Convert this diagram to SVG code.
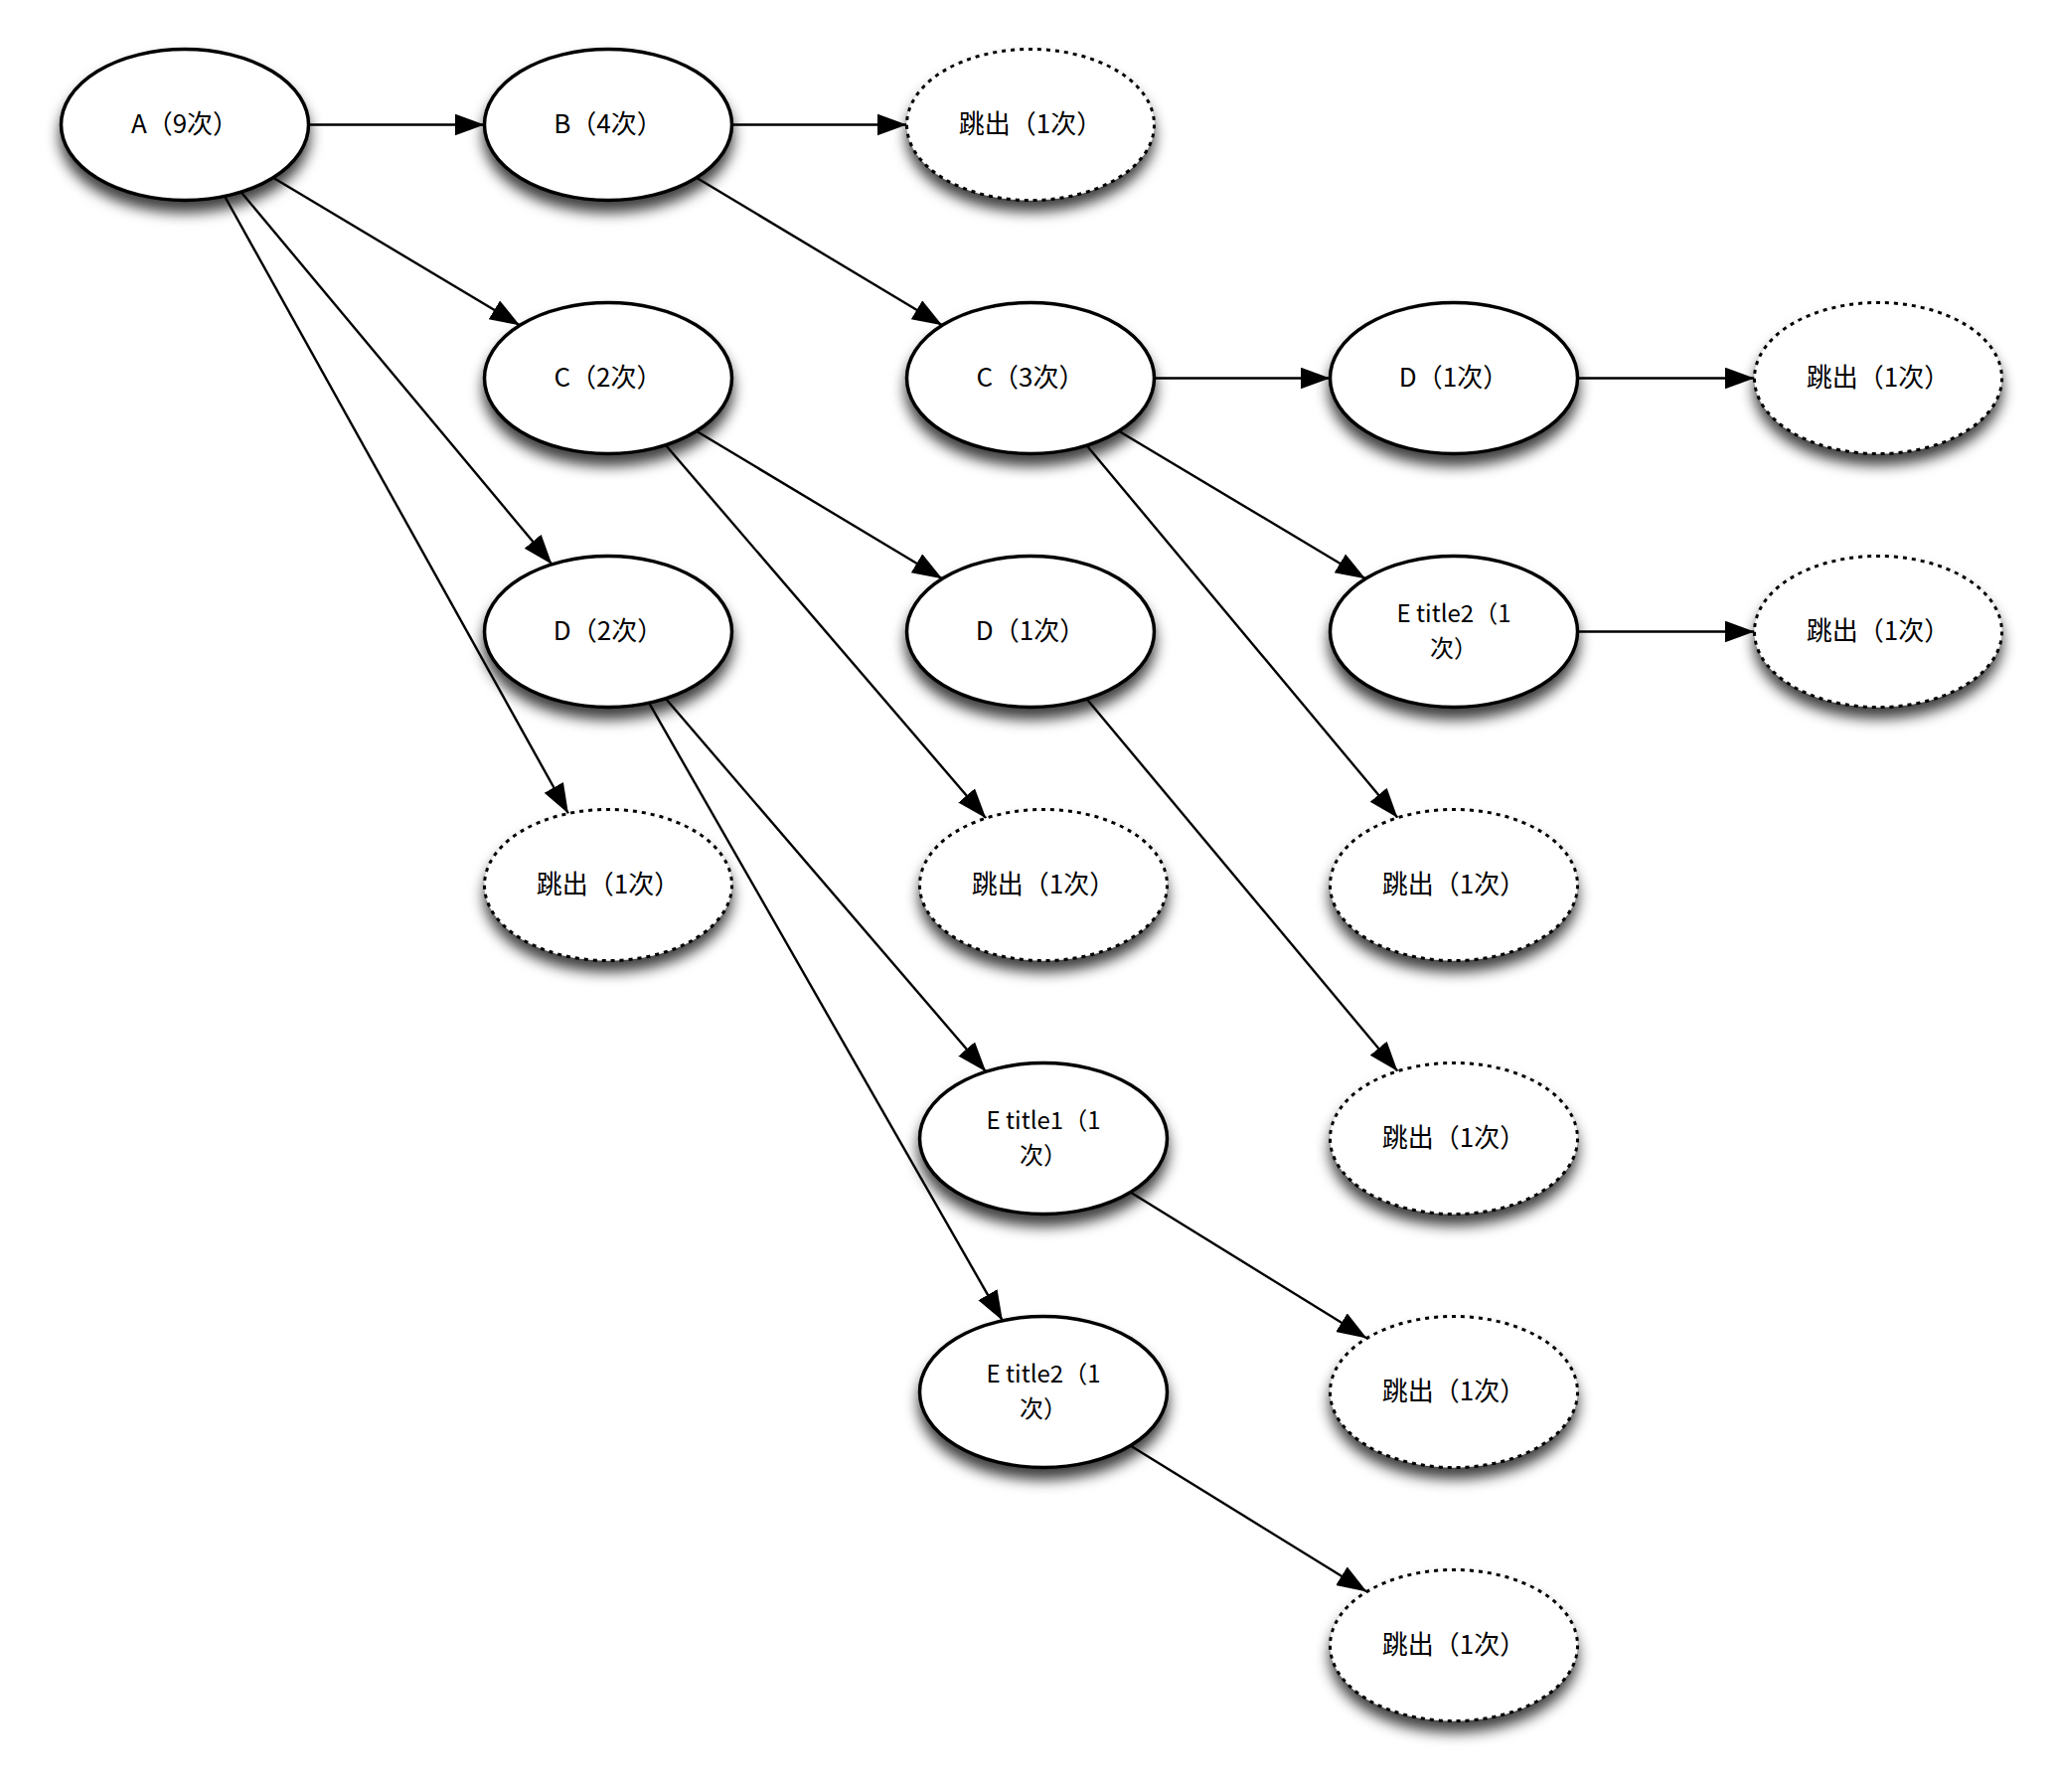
<svg xmlns="http://www.w3.org/2000/svg" width="2073" height="1803" viewBox="0 0 2073 1803">
<style>
.n{fill:#fff;stroke:#000;stroke-width:3.5}
.x{fill:#fff;stroke:#000;stroke-width:3;stroke-dasharray:4 5}
.t{font-family:"Noto Sans CJK SC","Noto Sans",sans-serif;font-size:26px;fill:#000;text-anchor:middle}
.t2{font-size:24px}
.e line{stroke:#000;stroke-width:2.4;marker-end:url(#ah)}
</style>
<defs>
<filter id="sh" x="-30%" y="-30%" width="160%" height="180%">
<feDropShadow dx="0" dy="11" stdDeviation="7" flood-color="#000" flood-opacity="0.75"/>
</filter>
<marker id="ah" markerUnits="userSpaceOnUse" markerWidth="32" markerHeight="24" refX="30" refY="11" orient="auto">
<path d="M0,0 L30,11 L0,22 Z" fill="#000"/>
</marker>
</defs>
<rect width="2073" height="1803" fill="#fff"/>
<g id="connectors" class="e">
<line x1="310.5" y1="125.5" x2="487.5" y2="125.5"/>
<line x1="736.5" y1="125.5" x2="912.5" y2="125.5"/>
<line x1="274.9" y1="178.7" x2="523.1" y2="327.3"/>
<line x1="242.6" y1="193.2" x2="555.4" y2="567.8"/>
<line x1="226.1" y1="197.5" x2="571.9" y2="818.5"/>
<line x1="700.8" y1="178.8" x2="948.2" y2="327.2"/>
<line x1="700.8" y1="433.8" x2="948.2" y2="582.2"/>
<line x1="669.8" y1="447.8" x2="992.2" y2="823.2"/>
<line x1="1161.5" y1="380.5" x2="1338.5" y2="380.5"/>
<line x1="1125.9" y1="433.7" x2="1374.1" y2="582.3"/>
<line x1="1093.6" y1="448.2" x2="1406.4" y2="822.8"/>
<line x1="1587.5" y1="380.5" x2="1765.5" y2="380.5"/>
<line x1="1587.5" y1="635.5" x2="1765.5" y2="635.5"/>
<line x1="669.8" y1="702.8" x2="992.2" y2="1078.2"/>
<line x1="653.1" y1="707.2" x2="1008.9" y2="1328.8"/>
<line x1="1093.6" y1="703.2" x2="1406.4" y2="1077.8"/>
<line x1="1137.5" y1="1199.5" x2="1375.5" y2="1346.5"/>
<line x1="1137.5" y1="1454.5" x2="1375.5" y2="1601.5"/>
</g>
<g id="n1"><ellipse class="n" filter="url(#sh)" cx="186" cy="125.5" rx="124.5" ry="76"/><text class="t" x="186" y="133.5">A（9次）</text></g>
<g id="n2"><ellipse class="n" filter="url(#sh)" cx="612" cy="125.5" rx="124.5" ry="76"/><text class="t" x="612" y="133.5">B（4次）</text></g>
<g id="n3"><ellipse class="x" filter="url(#sh)" cx="1037" cy="125.5" rx="124.5" ry="76"/><text class="t" x="1037" y="133.5">跳出（1次）</text></g>
<g id="n4"><ellipse class="n" filter="url(#sh)" cx="612" cy="380.5" rx="124.5" ry="76"/><text class="t" x="612" y="388.5">C（2次）</text></g>
<g id="n5"><ellipse class="n" filter="url(#sh)" cx="1037" cy="380.5" rx="124.5" ry="76"/><text class="t" x="1037" y="388.5">C（3次）</text></g>
<g id="n6"><ellipse class="n" filter="url(#sh)" cx="1463" cy="380.5" rx="124.5" ry="76"/><text class="t" x="1463" y="388.5">D（1次）</text></g>
<g id="n7"><ellipse class="x" filter="url(#sh)" cx="1890" cy="380.5" rx="124.5" ry="76"/><text class="t" x="1890" y="388.5">跳出（1次）</text></g>
<g id="n8"><ellipse class="n" filter="url(#sh)" cx="612" cy="635.5" rx="124.5" ry="76"/><text class="t" x="612" y="643.5">D（2次）</text></g>
<g id="n9"><ellipse class="n" filter="url(#sh)" cx="1037" cy="635.5" rx="124.5" ry="76"/><text class="t" x="1037" y="643.5">D（1次）</text></g>
<g id="n10"><ellipse class="n" filter="url(#sh)" cx="1463" cy="635.5" rx="124.5" ry="76"/><text class="t t2" x="1463" y="626"><tspan x="1463">E title2（1</tspan><tspan x="1463" dy="35">次）</tspan></text></g>
<g id="n11"><ellipse class="x" filter="url(#sh)" cx="1890" cy="635.5" rx="124.5" ry="76"/><text class="t" x="1890" y="643.5">跳出（1次）</text></g>
<g id="n12"><ellipse class="x" filter="url(#sh)" cx="612" cy="890.5" rx="124.5" ry="76"/><text class="t" x="612" y="898.5">跳出（1次）</text></g>
<g id="n13"><ellipse class="x" filter="url(#sh)" cx="1050" cy="890.5" rx="124.5" ry="76"/><text class="t" x="1050" y="898.5">跳出（1次）</text></g>
<g id="n14"><ellipse class="x" filter="url(#sh)" cx="1463" cy="890.5" rx="124.5" ry="76"/><text class="t" x="1463" y="898.5">跳出（1次）</text></g>
<g id="n15"><ellipse class="n" filter="url(#sh)" cx="1050" cy="1145.5" rx="124.5" ry="76"/><text class="t t2" x="1050" y="1136"><tspan x="1050">E title1（1</tspan><tspan x="1050" dy="35">次）</tspan></text></g>
<g id="n16"><ellipse class="x" filter="url(#sh)" cx="1463" cy="1145.5" rx="124.5" ry="76"/><text class="t" x="1463" y="1153.5">跳出（1次）</text></g>
<g id="n17"><ellipse class="n" filter="url(#sh)" cx="1050" cy="1400.5" rx="124.5" ry="76"/><text class="t t2" x="1050" y="1391"><tspan x="1050">E title2（1</tspan><tspan x="1050" dy="35">次）</tspan></text></g>
<g id="n18"><ellipse class="x" filter="url(#sh)" cx="1463" cy="1400.5" rx="124.5" ry="76"/><text class="t" x="1463" y="1408.5">跳出（1次）</text></g>
<g id="n19"><ellipse class="x" filter="url(#sh)" cx="1463" cy="1655.5" rx="124.5" ry="76"/><text class="t" x="1463" y="1663.5">跳出（1次）</text></g>
</svg>
